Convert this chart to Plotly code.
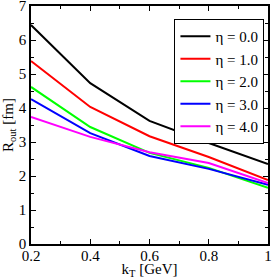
import plotly.graph_objects as go

kT = [0.2, 0.4, 0.6, 0.8, 1.0]
eta_labels = ["η = 0.0", "η = 1.0", "η = 2.0", "η = 3.0", "η = 4.0"]
R_eta0 = [6.44, 4.73, 3.62, 2.97, 2.35]
R_eta1 = [5.38, 4.03, 3.17, 2.56, 1.88]
R_eta2 = [4.62, 3.44, 2.68, 2.24, 1.65]
R_eta3 = [4.26, 3.26, 2.59, 2.21, 1.74]
R_eta4 = [3.74, 3.15, 2.70, 2.38, 1.79]
series = [R_eta0, R_eta1, R_eta2, R_eta3, R_eta4]
colors = ["#000000", "#ff0000", "#00ff00", "#0000ff", "#ff00ff"]

fig = go.Figure()
for lab, ys, c in zip(eta_labels, series, colors):
    fig.add_trace(go.Scatter(x=kT, y=ys, mode="lines", name=lab,
                             line=dict(color=c, width=2)))

FAM = "'Times New Roman', 'Liberation Serif', 'DejaVu Serif', serif"
font = dict(family=FAM, size=15, color="black")
axis_common = dict(showline=True, linecolor="black", linewidth=1.5, mirror="allticks",
                   ticks="inside", ticklen=5, tickcolor="black", showgrid=False,
                   zeroline=False, tickfont=font, automargin=False,
                   ticklabeloverflow="allow")
fig.update_xaxes(range=[0.2, 1.0], dtick=0.2, tick0=0.2, ticklabelstandoff=-3,
                 minor=dict(ticks="inside", ticklen=3, dtick=0.1, tickcolor="black"),
                 title=dict(text="k<sub>T</sub> [GeV]", font=font, standoff=2),
                 **axis_common)
fig.update_yaxes(range=[0, 7], dtick=1,
                 minor=dict(ticks="inside", ticklen=3, dtick=0.5, tickcolor="black"),
                 title=dict(text="R<sub>out</sub> [fm]", font=font, standoff=2),
                 **axis_common)
fig.update_layout(width=273, height=279, margin=dict(l=31, r=5, t=6, b=35),
                  plot_bgcolor="white", paper_bgcolor="white", font=font,
                  legend=dict(x=0.985, y=0.945, xanchor="right", yanchor="top",
                              bgcolor="white", bordercolor="black", borderwidth=1,
                              font=dict(family=FAM, size=15),
                              itemwidth=30, tracegroupgap=0))
fig.write_html("out.html", config={"displayModeBar": False},
               post_script="document.body.style.margin='0';document.body.style.overflow='hidden';")
